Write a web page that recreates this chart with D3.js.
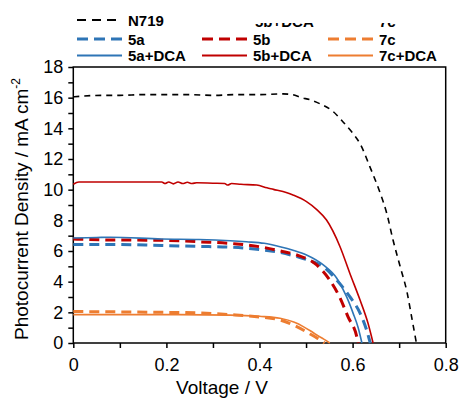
<!DOCTYPE html>
<html>
<head>
<meta charset="utf-8">
<script src="https://cdn.jsdelivr.net/npm/d3@7"></script>
<style>
  body { margin: 0; background: #fff; }
  svg { font-family: "Liberation Sans", Arial, sans-serif; }
</style>
</head>
<body>
<svg id="chart" width="461" height="398"></svg>
<script>
// J-V curves, [voltage V, current density mA cm-2]
var n719 = [[0,16.05],[0.02,16.1],[0.06,16.15],[0.1,16.15],[0.15,16.2],[0.2,16.2],[0.25,16.2],[0.3,16.15],[0.35,16.2],[0.4,16.2],[0.45,16.25],[0.47,16.2],[0.49,16.0],[0.51,15.85],[0.53,15.6],[0.558,15.1],[0.58,14.4],[0.6,13.7],[0.616,13.0],[0.637,11.5],[0.659,9.8],[0.673,8.5],[0.687,6.7],[0.702,5.0],[0.717,3.3],[0.728,1.5],[0.737,0]];
var s5a = [[0,6.43],[0.08,6.43],[0.19,6.36],[0.27,6.3],[0.337,6.25],[0.408,6.07],[0.445,5.9],[0.48,5.63],[0.51,5.35],[0.537,4.98],[0.566,4.1],[0.594,3.02],[0.616,1.95],[0.63,0.85],[0.638,0]];
var s5aDCA = [[0,6.85],[0.05,6.88],[0.08,6.9],[0.19,6.78],[0.27,6.75],[0.337,6.67],[0.372,6.6],[0.41,6.5],[0.444,6.28],[0.472,6.05],[0.501,5.74],[0.537,5.09],[0.566,4.22],[0.587,3.02],[0.601,1.95],[0.612,1.0],[0.62,0]];
var s5b = [[0,6.78],[0.08,6.72],[0.19,6.7],[0.27,6.6],[0.351,6.46],[0.408,6.24],[0.445,6.0],[0.48,5.74],[0.523,5.09],[0.551,4.1],[0.573,2.94],[0.59,1.72],[0.609,0.41],[0.612,0]];
var s5bDCA = [[0,10.35],[0.012,10.5],[0.05,10.5],[0.1,10.5],[0.15,10.5],[0.19,10.5],[0.197,10.4],[0.205,10.5],[0.215,10.38],[0.225,10.5],[0.235,10.4],[0.245,10.48],[0.255,10.4],[0.265,10.45],[0.3,10.42],[0.325,10.4],[0.332,10.3],[0.34,10.4],[0.36,10.35],[0.394,10.3],[0.416,10.12],[0.43,10.02],[0.459,9.8],[0.472,9.65],[0.501,9.22],[0.523,8.7],[0.544,8.02],[0.573,6.28],[0.594,4.55],[0.616,2.8],[0.633,1.3],[0.644,0]];
var s7c = [[0,2.05],[0.1,2.03],[0.19,2.0],[0.27,1.96],[0.337,1.85],[0.4,1.7],[0.444,1.5],[0.48,1.07],[0.508,0.6],[0.525,0.3],[0.54,0]];
var s7cDCA = [[0,1.85],[0.1,1.85],[0.19,1.85],[0.337,1.82],[0.4,1.74],[0.444,1.61],[0.475,1.35],[0.494,1.07],[0.51,0.78],[0.523,0.52],[0.538,0.25],[0.551,0]];

var seriesNames = ["N719", "5a", "5b", "7c", "5a+DCA", "5b+DCA", "7c+DCA"];
var xTicks = [0,0.1,0.2,0.3,0.4,0.5,0.6,0.7,0.8];
var yTicks = d3.range(0, 19, 1);

var blue = "#2e75b6", red = "#c00000", orange = "#ed7d31";

var svg = d3.select("#chart");
var plotL = 73.3, plotR = 445.7, plotT = 67, plotB = 343;

var x = d3.scaleLinear().domain([0, 0.8]).range([plotL, plotR]);
var y = d3.scaleLinear().domain([0, 18]).range([plotB, plotT]);

var styles = {
	"N719":   {data: n719,   color: "#000", width: 1.6, dash: "6,5"},
	"5a":     {data: s5a,    color: blue,   width: 3,   dash: "10,6"},
	"5b":     {data: s5b,    color: red,    width: 3,   dash: "10,6"},
	"7c":     {data: s7c,    color: orange, width: 3,   dash: "10,6"},
	"5a+DCA": {data: s5aDCA, color: blue,   width: 1.6, dash: null},
	"5b+DCA": {data: s5bDCA, color: red,    width: 1.6, dash: null},
	"7c+DCA": {data: s7cDCA, color: orange, width: 1.6, dash: null}
};

// axes
var xAxis = svg.append("g").attr("transform", "translate(0," + plotB + ")")
	.call(d3.axisBottom(x).tickValues(xTicks).tickSize(5).tickPadding(10)
		.tickFormat(function(d, i){ return i % 2 == 0 ? d3.format("~g")(d) : ""; }));
var yAxis = svg.append("g").attr("transform", "translate(" + plotL + ",0)")
	.call(d3.axisLeft(y).tickValues(yTicks).tickSize(5).tickPadding(5)
		.tickFormat(function(d){ return d % 2 == 0 ? d : ""; }));

[xAxis, yAxis].forEach(function(a){
	a.select(".domain").remove();
	a.selectAll("line").attr("stroke", "#000").attr("stroke-width", 1.5);
	a.selectAll("text").attr("font-size", 18).attr("fill", "#000")
		.attr("font-family", "Liberation Sans, Arial, sans-serif");
});

// frame
svg.append("rect")
	.attr("x", plotL).attr("y", plotT)
	.attr("width", plotR - plotL).attr("height", plotB - plotT)
	.attr("fill", "none").attr("stroke", "#000").attr("stroke-width", 1.5);

// curves
var line = d3.line()
	.x(function(d){ return x(d[0]); })
	.y(function(d){ return y(d[1]); })
	.curve(d3.curveMonotoneX);

var drawOrder = ["7c", "7c+DCA", "5a", "5b", "5a+DCA", "5b+DCA", "N719"];
drawOrder.forEach(function(name){
	var s = styles[name];
	svg.append("path")
		.datum(s.data)
		.attr("d", line)
		.attr("fill", "none")
		.attr("stroke", s.color)
		.attr("stroke-width", s.width)
		.attr("stroke-dasharray", s.dash);
});

// axis titles
svg.append("text")
	.attr("x", 222).attr("y", 394)
	.attr("text-anchor", "middle")
	.attr("font-size", 19)
	.text("Voltage / V");

var yt = svg.append("text")
	.attr("transform", "translate(28,209) rotate(-90)")
	.attr("text-anchor", "middle")
	.attr("font-size", 19);
yt.append("tspan").text("Photocurrent Density / mA cm");
yt.append("tspan").attr("font-size", 12).attr("dy", -8).text("-2");

// legend (one row is cut off behind the row above it)
var cols = [77, 202, 328];
svg.append("clipPath").attr("id", "cut")
	.append("rect").attr("x", 190).attr("y", 23).attr("width", 271).attr("height", 5);
var hidden = svg.append("g").attr("clip-path", "url(#cut)")
	.attr("font-size", 15).attr("font-weight", "bold");
hidden.append("text").attr("x", cols[1] + 53).attr("y", 26.5).text("5b+DCA");
hidden.append("text").attr("x", cols[2] + 51).attr("y", 26.5).text("7c");

var rows = [
	[{name: "N719", col: 0}],
	[{name: "5a", col: 0}, {name: "5b", col: 1}, {name: "7c", col: 2}],
	[{name: "5a+DCA", col: 0}, {name: "5b+DCA", col: 1}, {name: "7c+DCA", col: 2}]
];
var rowY = [20, 39, 55.5];

var legend = svg.append("g");
rows.forEach(function(r, i){
	r.forEach(function(item){
		var s = styles[item.name];
		var lx = cols[item.col];
		legend.append("line")
			.attr("x1", lx).attr("x2", lx + 45)
			.attr("y1", rowY[i]).attr("y2", rowY[i])
			.attr("stroke", s.color)
			.attr("stroke-width", s.dash ? (item.name == "N719" ? 2 : 3) : 1.8)
			.attr("stroke-dasharray", s.dash ? (item.name == "N719" ? "9,6" : "11,6") : null);
		legend.append("text")
			.attr("x", lx + 51).attr("y", rowY[i] + 5.5)
			.attr("font-size", 15).attr("font-weight", "bold")
			.text(item.name);
	});
});
</script>
</body>
</html>
